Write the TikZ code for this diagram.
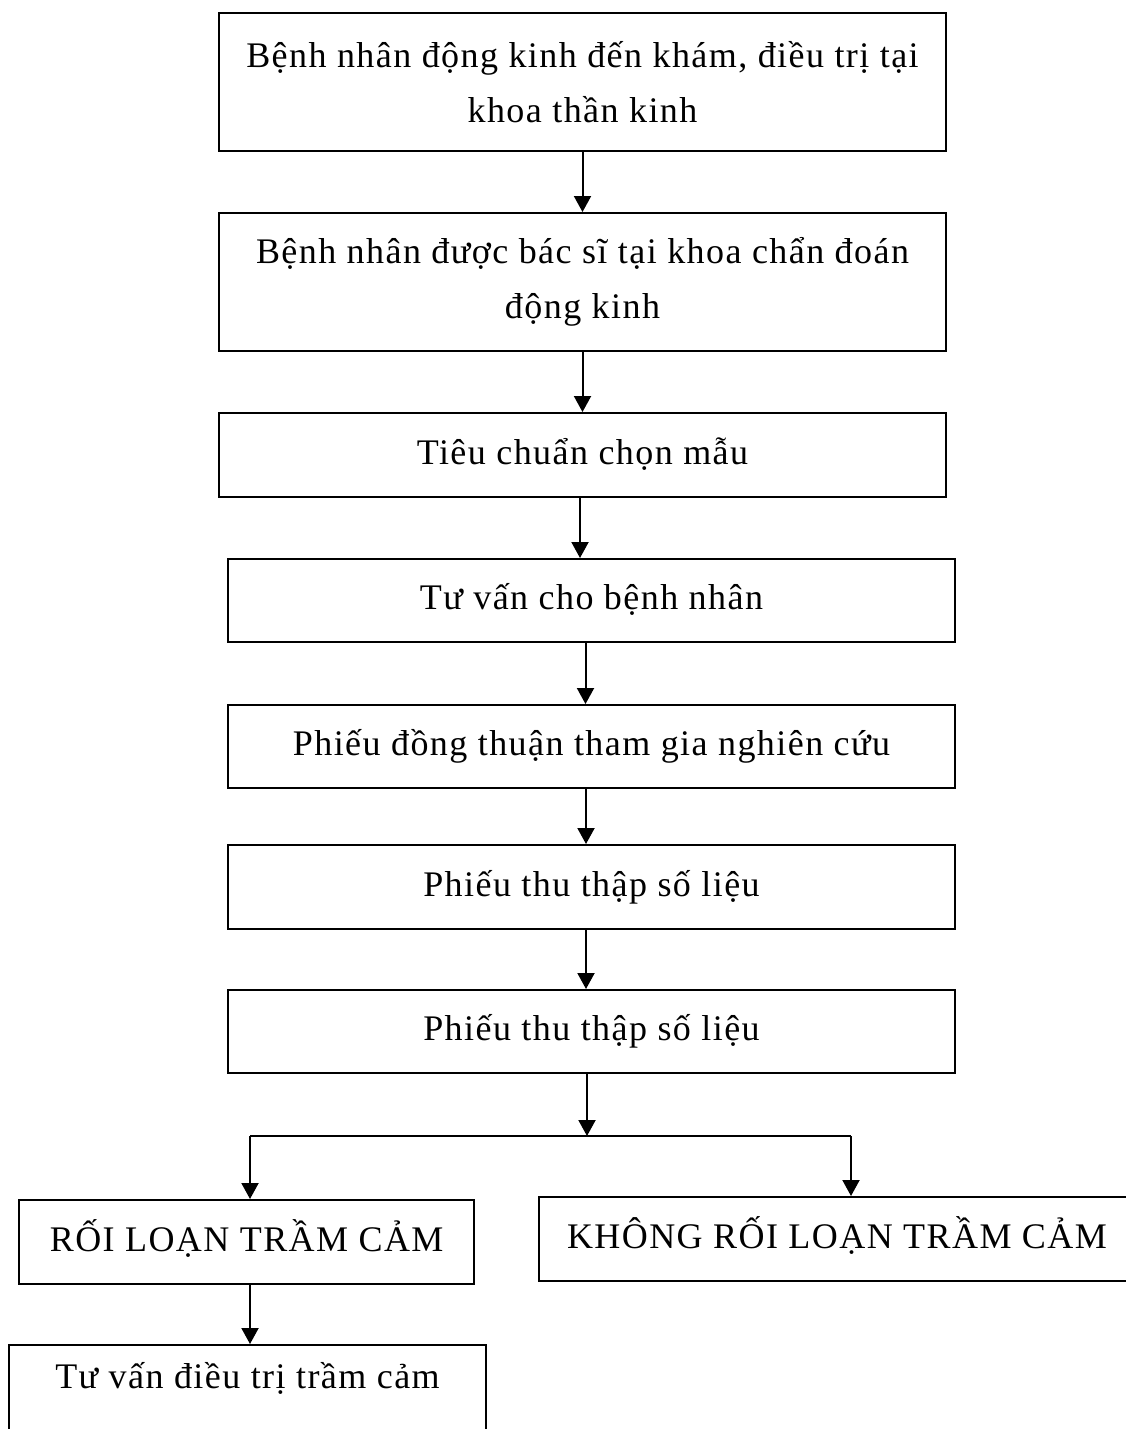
\documentclass[tikz,border=0pt]{standalone}
\usepackage{fontspec}
\setmainfont{Liberation Serif}[LetterSpace=4]
\usetikzlibrary{arrows.meta}

\begin{document}
\begin{tikzpicture}[x=1pt,y=-1pt,line width=2pt,
  >={Triangle[length=16pt,width=17pt]},
  box/.style={draw,line width=2pt,inner sep=0pt,align=center,
    font=\fontsize{36}{55}\selectfont},
  oneline/.style={box,text height=27pt,text depth=9pt}]
\useasboundingbox (0,0) rectangle (1126,1429);
\path
(582.5,82) node[box,minimum width=727pt,minimum height=138pt] (A) {Bệnh nhân động kinh đến khám, điều trị tại\\khoa thần kinh}
(582.5,282) node[box,minimum width=727pt,minimum height=138pt] (B) {Bệnh nhân được bác sĩ tại khoa chẩn đoán\\động kinh}
(582.5,455) node[oneline,minimum width=727pt,minimum height=84pt] (C) {Tiêu chuẩn chọn mẫu}
(591.5,600.5) node[oneline,minimum width=727pt,minimum height=83pt] (D) {Tư vấn cho bệnh nhân}
(591.5,746.5) node[oneline,minimum width=727pt,minimum height=83pt] (E) {Phiếu đồng thuận tham gia nghiên cứu}
(591.5,887) node[oneline,minimum width=727pt,minimum height=84pt] (F) {Phiếu thu thập số liệu}
(591.5,1031.5) node[oneline,minimum width=727pt,minimum height=83pt] (G) {Phiếu thu thập số liệu}
(246.7,1242) node[oneline,minimum width=454.6pt,minimum height=84pt] (H) {RỐI LOẠN TRẦM CẢM}
(837,1239) node[oneline,minimum width=596pt,minimum height=84pt] (I) {KHÔNG RỐI LOẠN TRẦM CẢM}
(247.5,1395) node[oneline,minimum width=477pt,minimum height=100pt,text depth=41pt] (J) {Tư vấn điều trị trầm cảm};
\coordinate (s) at (587,1136);
\coordinate (l) at (250,1136);
\coordinate (r) at (851,1136);
%\draw[->] (A) -- (B) -- (C);
\draw[->] (A) -- (B);
\draw[->] (B) -- (C);
\draw[->] ([xshift=-2.5pt]C.south) -- ([xshift=-2.5pt]C.south |- D.north);
\draw[->] ([xshift=-6pt]D.south) -- ([xshift=-6pt]D.south |- E.north);
\draw[->] ([xshift=-5.5pt]E.south) -- ([xshift=-5.5pt]E.south |- F.north);
\draw[->] ([xshift=-5.5pt]F.south) -- ([xshift=-5.5pt]F.south |- G.north);
\draw[->] (G.south -| s) -- (s);
\draw (l) -- (r);
\draw[->] (l) -- (l |- H.north);
\draw[->] (r) -- (r |- I.north);
\draw[->] (H.south -| l) -- (l |- J.north);
\end{tikzpicture}
\end{document}
